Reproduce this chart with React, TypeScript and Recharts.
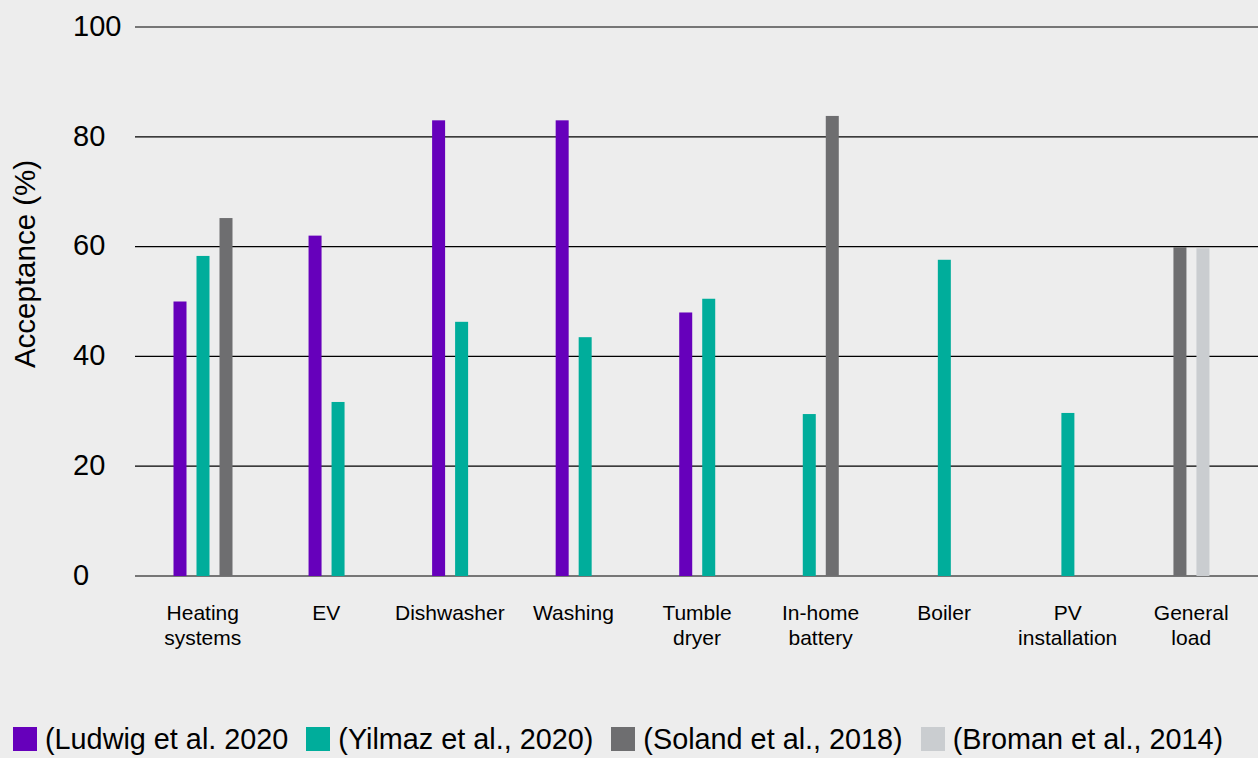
import React from "react"
import { Bar, BarChart, CartesianGrid, Legend, XAxis, YAxis } from "recharts"

const categories = [
  "Heating systems",
  "EV",
  "Dishwasher",
  "Washing",
  "Tumble dryer",
  "In-home battery",
  "Boiler",
  "PV installation",
  "General load",
]

const ludwig = [50, 62, 83, 83, 48, null, null, null, null]
const yilmaz = [58.3, 31.7, 46.3, 43.5, 50.5, 29.5, 57.6, 29.7, null]
const soland = [65.2, null, null, null, null, 83.8, null, null, 59.9]
const broman = [null, null, null, null, null, null, null, null, 59.7]

const yTicks = [0, 20, 40, 60, 80, 100]

const series = [
  { key: "ludwig", name: "(Ludwig et al. 2020", color: "#6600bb" },
  { key: "yilmaz", name: "(Yilmaz et al., 2020)", color: "#00ad9b" },
  { key: "soland", name: "(Soland et al., 2018)", color: "#6e6e70" },
  { key: "broman", name: "(Broman et al., 2014)", color: "#cacdd0" },
]

const data = categories.map((name, i) => ({
  name,
  ludwig: ludwig[i],
  yilmaz: yilmaz[i],
  soland: soland[i],
  broman: broman[i],
}))

const FONT = '"Liberation Sans", Arial, sans-serif'
const BAR_W = 13
const PITCH = 23 // bar width + gap

// bars are centred on the category using only the series that have a value
function makeShape(key: string, slot: number) {
  return (props: any) => {
    const { x, y, width, height, payload, fill } = props
    if (!payload || payload[key] == null) return <g />
    const center = x + BAR_W / 2 - (slot - 1.5) * PITCH
    const present = series.map((s) => s.key).filter((k) => payload[k] != null)
    const rank = present.indexOf(key)
    const groupW = present.length * PITCH - (PITCH - BAR_W)
    const nx = center - groupW / 2 + rank * PITCH
    return <rect x={nx} y={y} width={width} height={height} fill={fill} />
  }
}

const XTick = (props: any) => {
  const { x, y, payload } = props
  const words = String(payload.value).split(" ")
  return (
    <text x={x} y={y + 44} textAnchor="middle" fontSize={21} fontFamily={FONT} fill="#000">
      {words.map((w, i) => (
        <tspan key={i} x={x} dy={i === 0 ? 0 : 25}>
          {w}
        </tspan>
      ))}
    </text>
  )
}

const YTick = (props: any) => {
  const { y, payload } = props
  return (
    <text x={73} y={y} dy="0.3em" textAnchor="start" fontSize={29} fontFamily={FONT} fill="#000">
      {payload.value}
    </text>
  )
}

const YTitle = () => (
  <text
    x={35}
    y={264}
    transform="rotate(-90 35 264)"
    textAnchor="middle"
    fontSize={29.5}
    fontFamily={FONT}
    fill="#000"
  >
    Acceptance (%)
  </text>
)

const LegendBox = () => (
  <div style={{ display: "flex", alignItems: "center", height: 38, paddingLeft: 13, fontFamily: FONT }}>
    {series.map((s) => (
      <div key={s.key} style={{ display: "flex", alignItems: "center", marginRight: 18 }}>
        <span style={{ width: 24, height: 24, background: s.color, display: "inline-block", marginRight: 8 }} />
        <span style={{ fontSize: 28.8, lineHeight: 1, color: "#000", whiteSpace: "nowrap" }}>{s.name}</span>
      </div>
    ))}
  </div>
)

export default function App() {
  return (
    <div style={{ position: "absolute", left: 0, top: 0, width: 1258, height: 758, background: "#ededed" }}>
      <BarChart
        width={1258}
        height={758}
        data={data}
        margin={{ top: 27, right: 0, left: 0, bottom: 0 }}
        barSize={BAR_W}
        barGap={PITCH - BAR_W}
      >
        <CartesianGrid vertical={false} stroke="#000" strokeWidth={1.2} />
        <XAxis
          dataKey="name"
          axisLine={false}
          tickLine={false}
          tickSize={0}
          tickMargin={0}
          height={144}
          interval={0}
          padding={{ left: 6, right: 5 }}
          tick={<XTick />}
        />
        <YAxis
          width={135}
          domain={[0, 100]}
          ticks={yTicks}
          axisLine={false}
          tickLine={false}
          tick={<YTick />}
          label={<YTitle />}
        />
        <Legend
          verticalAlign="bottom"
          align="left"
          content={<LegendBox />}
          wrapperStyle={{ left: 0, width: 1258, height: 38 }}
        />
        {series.map((s, i) => (
          <Bar
            key={s.key}
            dataKey={s.key}
            name={s.name}
            fill={s.color}
            shape={makeShape(s.key, i)}
            isAnimationActive={false}
          />
        ))}
      </BarChart>
    </div>
  )
}
